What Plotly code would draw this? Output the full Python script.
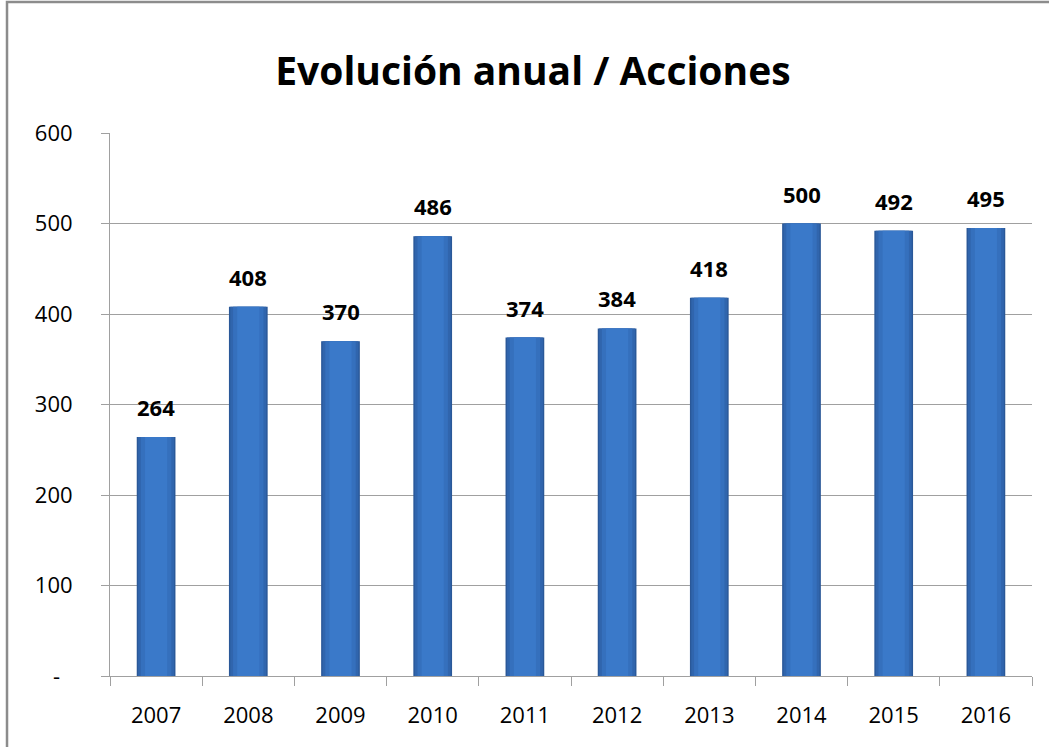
import plotly.graph_objects as go

years = ["2007", "2008", "2009", "2010", "2011", "2012", "2013", "2014", "2015", "2016"]
acciones = [264, 408, 370, 486, 374, 384, 418, 500, 492, 495]
y_ticks = [0, 100, 200, 300, 400, 500, 600]
y_tick_labels = ["-\u2007", "100", "200", "300", "400", "500", "600"]

fig = go.Figure()
layers = [(0.42, "#2a5898"), (0.39, "#3065ad"), (0.33, "#3570bd"), (0.24, "#3a79c9")]
for w, c in layers:
    fig.add_trace(go.Bar(x=years, y=acciones, width=w, marker=dict(color=c, line=dict(width=0)),
                         hoverinfo="y", showlegend=False))

for i, v in enumerate(acciones):
    fig.add_annotation(x=i, y=v, xref="x", yref="y", text=f"<b>{v}</b>", showarrow=False,
                       yshift=30, font=dict(family="Open Sans", size=22, color="#000000"))

fig.update_layout(
    width=1049, height=747,
    barmode="overlay",
    paper_bgcolor="white", plot_bgcolor="white",
    margin=dict(l=110, r=17, t=133, b=71),
    title=dict(text="<b>Evolución anual / Acciones</b>", x=0.508, xanchor="center",
               y=0.905, yanchor="middle",
               font=dict(family="Open Sans", size=39, color="#000000")),
    font=dict(family="Open Sans", size=22, color="#000000"),
    xaxis=dict(type="category", tickson="boundaries", ticks="outside", ticklen=9,
               tickcolor="#a0a0a0", showgrid=False, showline=True, linecolor="#a0a0a0",
               linewidth=1, tickfont=dict(size=22), range=[-0.5, 9.5], ticklabelstandoff=20),
    yaxis=dict(range=[0, 600], tickvals=y_ticks, ticktext=y_tick_labels, ticks="outside",
               ticklen=8, tickcolor="#a0a0a0", showgrid=True, gridcolor="#a0a0a0",
               showline=True, linecolor="#a0a0a0", linewidth=1, zeroline=False,
               tickfont=dict(size=22), ticklabelstandoff=24),
    shapes=[dict(type="rect", xref="paper", yref="paper", x0=-0.1117, y0=-0.2, x1=1.2, y1=1.2412,
                 line=dict(color="#8c8c8c", width=2.5), layer="below")],
)

fig.write_html("out.html", config={"displayModeBar": False},
               post_script="document.body.style.margin='0';document.body.style.overflow='hidden';")
